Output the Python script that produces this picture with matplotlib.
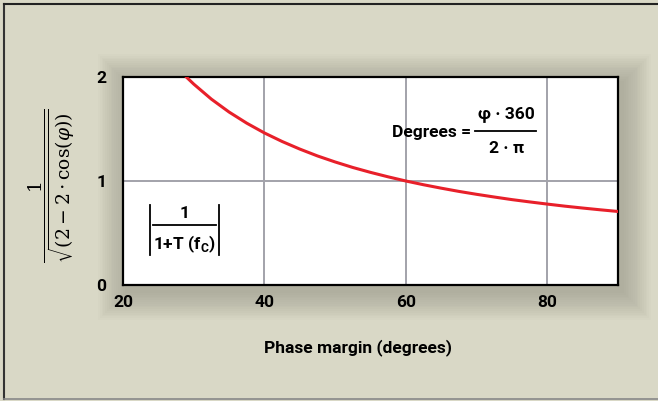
import matplotlib
matplotlib.use("Agg")
import matplotlib.pyplot as plt
from matplotlib.patches import Rectangle
from matplotlib.lines import Line2D

# phase margin (degrees) and 1/sqrt(2-2cos(phi))
phase_deg = [29, 30, 32.5, 35, 37.5, 40, 42.5, 45, 47.5, 50, 52.5, 55, 57.5, 60,
             62.5, 65, 67.5, 70, 72.5, 75, 77.5, 80, 82.5, 85, 87.5, 90]
magnitude = [1.997, 1.932, 1.787, 1.663, 1.556, 1.462, 1.380, 1.307, 1.241, 1.183, 1.130,
             1.083, 1.040, 1.000, 0.964, 0.931, 0.900, 0.872, 0.846, 0.821, 0.799,
             0.778, 0.758, 0.740, 0.723, 0.707]
x_ticks = [20, 40, 60, 80]
y_ticks = [0, 1, 2]

bg = '#d9d8c6'
font = ['Roboto', 'DejaVu Sans']
plt.rcParams['font.family'] = font
plt.rcParams['mathtext.fontset'] = 'custom'
plt.rcParams['mathtext.rm'] = 'Roboto:bold'
fw = 'bold'
fs = 12.5

W, H = 658, 401
fig = plt.figure(figsize=(W / 100, H / 100), dpi=100)
fig.patch.set_facecolor(bg)

# plot area in pixels
x0, x1, y0, y1 = 123, 618, 77, 285
ax = fig.add_axes([x0 / W, 1 - y1 / H, (x1 - x0) / W, (y1 - y0) / H])
ax.set_facecolor('white')

# soft glow shadow around the plot area
for i in range(16):
    g = 2 + i * 1.8
    fig.add_artist(Rectangle(((x0 - g + 4) / W, 1 - (y1 + g + 6) / H),
                             (x1 - x0 + 2 * g) / W, (y1 - y0 + 2 * g) / H,
                             transform=fig.transFigure, facecolor='#6b6a5c',
                             edgecolor='none', alpha=0.022, zorder=-5))

ax.plot(phase_deg, magnitude, color='#e8202a', lw=2.2, clip_on=True, zorder=3)

ax.set_xlim(20, 90)
ax.set_ylim(0, 2)
ax.set_xticks(x_ticks)
ax.set_yticks(y_ticks)
ax.grid(True, color='#a2a2aa', lw=1.4)
ax.set_axisbelow(True)
ax.tick_params(length=0, labelsize=fs, pad=7)
ax.tick_params(axis='y', pad=12)
for lab in ax.get_xticklabels() + ax.get_yticklabels():
    lab.set_fontweight(fw)
for s in ax.spines.values():
    s.set_color('black')
    s.set_linewidth(1.6)

# Degrees = phi*360 / 2*pi
ax.text(69.3, 1.47, 'Degrees =', ha='right', va='center', fontsize=fs, fontweight=fw)
ax.plot([69.8, 78.4], [1.48, 1.48], color='black', lw=1.3)
ax.text(74.2, 1.64, 'φ · 360', ha='center', va='center', fontsize=fs, fontweight=fw)
ax.text(74.2, 1.31, '2 · π', ha='center', va='center', fontsize=fs, fontweight=fw)

# |1 / (1+T(fc))|
ax.plot([23.8, 23.8], [0.29, 0.77], color='black', lw=1.3)
ax.plot([33.6, 33.6], [0.29, 0.77], color='black', lw=1.3)
ax.plot([24.3, 33.1], [0.575, 0.575], color='black', lw=1.3)
ax.text(28.7, 0.69, '1', ha='center', va='center', fontsize=fs, fontweight=fw)
ax.text(28.7, 0.39, r'1+T (f$_\mathrm{C}$)', ha='center', va='center',
        fontsize=fs, fontweight=fw)

fig.text(358 / W, 1 - 348 / H, 'Phase margin (degrees)', ha='center', va='center',
         fontsize=fs, fontweight=fw)
fig.text(52 / W, 1 - 186 / H, r'$\dfrac{1}{\sqrt{(2-2\cdot\mathrm{cos}(\varphi))}}$',
         rotation=90, ha='center', va='center', fontsize=13.5, math_fontfamily='dejavuserif')

# outer frame
fig.add_artist(Line2D([4 / W, 4 / W], [1 - 4 / H, 1 - 399 / H], color='#333333', lw=1.5,
                      transform=fig.transFigure))
fig.add_artist(Line2D([4 / W, 1], [1 - 4 / H, 1 - 4 / H], color='#222222', lw=1.5,
                      transform=fig.transFigure))
fig.add_artist(Line2D([4 / W, 1], [1 - 399 / H, 1 - 399 / H], color='#888888', lw=1.2,
                      transform=fig.transFigure))

fig.savefig('out.png', dpi=100, facecolor=fig.get_facecolor())
